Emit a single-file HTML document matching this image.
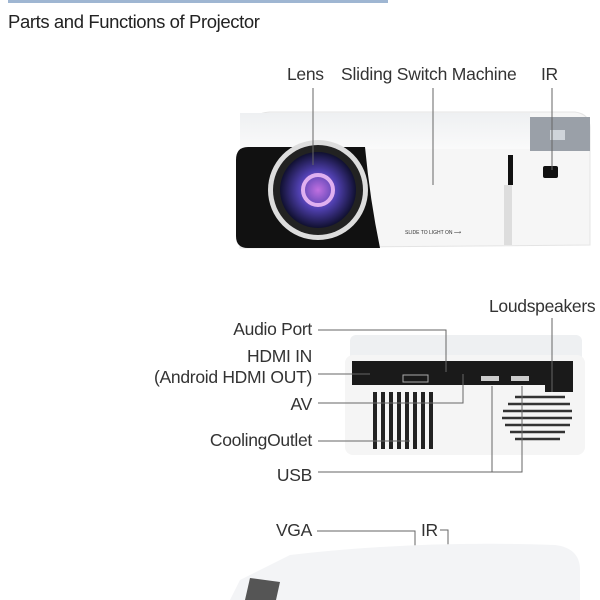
<!DOCTYPE html><html><head><style>
body{margin:0;width:600px;height:600px;background:#fff;overflow:hidden;position:relative;font-family:"Liberation Sans",sans-serif}
.t{position:absolute;font-size:17.5px;color:#333;white-space:nowrap;letter-spacing:-0.3px}
.r{text-align:right;right:288px}
</style></head><body>
<div style="position:absolute;left:8px;top:0;width:380px;height:3px;background:#2a5d9c;opacity:.45"></div>
<div class="t" style="left:8px;top:11px;font-size:18.5px;color:#222;letter-spacing:-0.4px">Parts and Functions of Projector</div>
<div class="t" style="left:287px;top:64px">Lens</div>
<div class="t" style="left:341px;top:64px;letter-spacing:-0.2px">Sliding Switch Machine</div>
<div class="t" style="left:541px;top:64px">IR</div>
<div class="t" style="left:489px;top:296px">Loudspeakers</div>
<div class="t r" style="top:319px">Audio Port</div>
<div class="t r" style="top:346px">HDMI IN</div>
<div class="t r" style="top:367px">(Android HDMI OUT)</div>
<div class="t r" style="top:394px">AV</div>
<div class="t r" style="top:430px">CoolingOutlet</div>
<div class="t r" style="top:465px">USB</div>
<div class="t r" style="top:520px">VGA</div>
<div class="t" style="left:421px;top:520px">IR</div>
<svg width="600" height="600" style="position:absolute;left:0;top:0">
<defs><radialGradient id="lg" cx="50%" cy="50%" r="50%"><stop offset="0" stop-color="#c070e0"/><stop offset=".5" stop-color="#5040b0"/><stop offset="1" stop-color="#101030"/></radialGradient>
<linearGradient id="tp" x1="0" y1="0" x2="0" y2="1"><stop offset="0" stop-color="#eef0f2"/><stop offset="1" stop-color="#fafafa"/></linearGradient></defs>
<path d="M250 128 Q252 113 270 112 L575 112 Q590 114 590 128 L590 245 L240 248 Z" fill="#f6f6f6" stroke="#e4e4e4"/>
<rect x="240" y="113" width="290" height="36" fill="url(#tp)"/>
<rect x="530" y="117" width="60" height="34" fill="#9aa0a8"/>
<rect x="550" y="130" width="15" height="10" fill="#cfd4da"/>
<path d="M248 147 L365 147 Q370 200 380 248 L248 248 Q236 248 236 236 L236 160 Q236 147 248 147Z" fill="#111"/>
<circle cx="318" cy="190" r="50" fill="#ddd"/>
<circle cx="318" cy="190" r="45" fill="#222"/>
<circle cx="318" cy="190" r="38" fill="url(#lg)"/>
<circle cx="318" cy="190" r="15" fill="none" stroke="#e0b0f0" stroke-width="4"/>
<rect x="508" y="155" width="5" height="30" fill="#111"/>
<rect x="504" y="185" width="8" height="60" fill="#ddd"/>
<rect x="543" y="166" width="15" height="12" fill="#111" rx="2"/>
<text x="405" y="234" font-size="5" fill="#333" font-family="Liberation Sans">SLIDE TO LIGHT ON ⟶</text>
<g stroke="#666" stroke-width="1" fill="none">
<path d="M313 88 V165 M433 88 V185 M552 88 V170"/>
</g>
<rect x="350" y="335" width="232" height="30" fill="#eef0f2" rx="6"/>
<rect x="345" y="355" width="240" height="100" fill="#f5f5f5" rx="8"/>
<path d="M352 361 H573 V392 H545 V385 H352 Z" fill="#1a1a1a"/>
<rect x="403" y="375" width="25" height="7" fill="none" stroke="#aaa"/>
<rect x="481" y="376" width="18" height="5" fill="#ccc"/>
<rect x="511" y="376" width="18" height="5" fill="#ccc"/>
<g fill="#222"><rect x="373" y="392" width="4" height="57"/><rect x="381" y="392" width="4" height="57"/><rect x="389" y="392" width="4" height="57"/><rect x="397" y="392" width="4" height="57"/><rect x="405" y="392" width="4" height="57"/><rect x="413" y="392" width="4" height="57"/><rect x="421" y="392" width="4" height="57"/><rect x="429" y="392" width="4" height="57"/></g>
<g stroke="#333" stroke-width="2.5"><path d="M515 397H565 M508 404H570 M503 411H572 M502 418H572 M505 425H570 M510 432H565 M515 439H560"/></g>
<g stroke="#666" stroke-width="1" fill="none">
<path d="M318 330 H446 V372 M318 374 H370 M318 403 H463 V374 M318 441 H410 M318 472 H522 V386 M492 386 V472 M552 318 V392"/>
<path d="M317 531 H415 V600 M440 530 H448 V600" />
</g>
<path d="M290 555 Q420 540 555 545 Q580 548 580 570 L580 600 L230 600 L240 580 Z" fill="#f3f4f6"/>
<path d="M250 578 L280 582 L276 600 L245 600 Z" fill="#555"/>
</svg>
</body></html>
